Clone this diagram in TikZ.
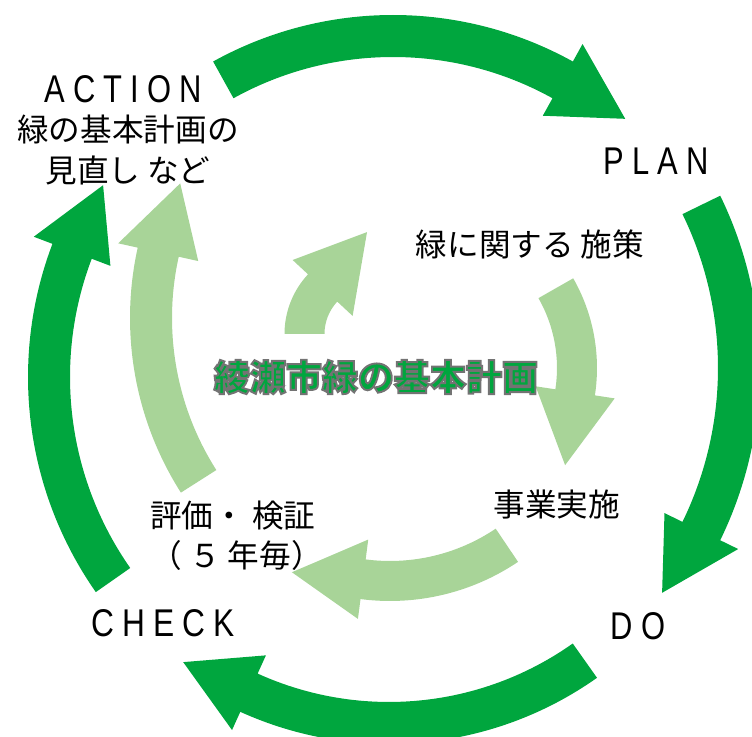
\documentclass[tikz,border=0pt]{standalone}
\usepackage{fontspec}
\setmainfont{Liberation Sans}
\newfontfamily\jpfont{Noto Sans CJK JP}
\newfontfamily\enfont[LetterSpace=26]{Liberation Sans}
\definecolor{darkgreen}{RGB}{0,166,62}
\definecolor{lightgreen}{RGB}{168,212,152}
\newcommand\outlined[1]{\special{pdf:literal direct 2 Tr 1.1 w 0.45 0.45 0.45 RG}#1\special{pdf:literal direct 0 Tr}}
\begin{document}
\begin{tikzpicture}[x=0.02cm, y=0.02cm, darkarrow/.style={fill=darkgreen}, lightarrow/.style={fill=lightgreen}, phase/.style={font=\enfont\fontsize{22}{26}\selectfont, inner sep=0pt}, note/.style={font=\jpfont\fontsize{18}{22.8}\selectfont, inner sep=0pt}]
        \useasboundingbox (0,0) rectangle (752,737);
        % outer cycle
        \fill[darkarrow, shift={(393,351)}] (119:371) arc[start angle=119, end angle=61, radius=371] -- (61:391) -- (49:354) -- (61:309) -- (61:329) arc[start angle=61, end angle=119, radius=329] -- cycle;
        \fill[darkarrow, shift={(367,369)}] (26:393) arc[start angle=26, end angle=-26, radius=393] -- (-26:413) -- (-37.3:371) -- (-26:331) -- (-26:351) arc[start angle=-26, end angle=26, radius=351] -- cycle;
        \fill[darkarrow, shift={(389,353)}] (-54.7:360) arc[start angle=-54.7, end angle=-114.4, radius=360] -- (-114.4:380) -- (-126.5:346) -- (-114.4:298) -- (-114.4:318) arc[start angle=-114.4, end angle=-54.7, radius=318] -- cycle;
        \fill[darkarrow, shift={(403,360)}] (215:375) arc[start angle=215, end angle=159.2, radius=375] -- (159.2:395) -- (147.4:356) -- (159.2:313) -- (159.2:333) arc[start angle=159.2, end angle=215, radius=333] -- cycle;
        % inner cycle
        \fill[lightarrow, shift={(455,419)}] (212.5:325) arc[start angle=212.5, end angle=167.5, radius=325] -- (167.5:345) -- (153.9:306) -- (167.5:263) -- (167.5:283) arc[start angle=167.5, end angle=212.5, radius=283] -- cycle;
        \fill[lightarrow, shift={(372,403)}] (180:87.5) arc[start angle=180, end angle=137, radius=87.5] -- (137:108.5) -- (92.8:102) -- (137:26.5) -- (137:47.5) arc[start angle=137, end angle=180, radius=47.5] -- cycle;
        \fill[lightarrow, shift={(416,369)}] (29.7:181) arc[start angle=29.7, end angle=-8.7, radius=181] -- (-8.7:201) -- (-33.1:178) -- (-8.7:121) -- (-8.7:141) arc[start angle=-8.7, end angle=29.7, radius=141] -- cycle;
        \fill[lightarrow, shift={(390,365)}] (-56:229) arc[start angle=-56, end angle=-97.4, radius=229] -- (-97.4:249) -- (-116.1:223) -- (-97.4:169) -- (-97.4:189) arc[start angle=-97.4, end angle=-56, radius=189] -- cycle;
        % labels
        \node[phase] (action) at (123,648) {\scalebox{0.8}[1]{ACTION}};
        \node[note, align=center] (review) at (128,587) {緑の基本計画の\\見直し など};
        \node[phase] (plan) at (656,576) {\scalebox{0.8}[1]{PLAN}};
        \node[note] (measures) at (530,493) {緑に関する 施策};
        \node[note] (project) at (557,232) {事業実施};
        \node[note, align=left, anchor=west] (evaluate) at (150,201) {評価・ 検証\\（ ５ 年毎）};
        \node[phase] (check) at (163,114) {\scalebox{0.82}[1]{CHECK}};
        \node[phase] (do) at (638,111) {\scalebox{0.8}[1]{DO}};
        \node[font=\jpfont\bfseries\fontsize{20.5}{24}\selectfont, text=darkgreen, inner sep=0pt] (title) at (376,360) {\outlined{綾瀬市緑の基本計画}};
    \end{tikzpicture}
\end{document}
